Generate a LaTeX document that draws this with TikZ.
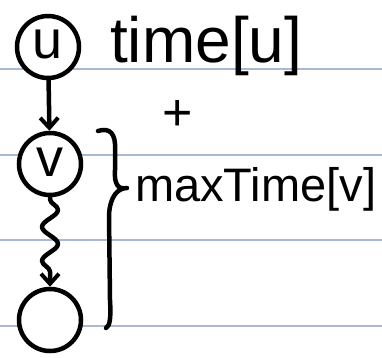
\documentclass[tikz,border=0pt]{standalone}
\usepackage{fontspec}
\setmainfont{Liberation Sans}
\usetikzlibrary{arrows.meta,decorations.pathmorphing}
\definecolor{ruled}{HTML}{A9B9D3}
\tikzset{
  rule/.style={draw=ruled, line width=1.6pt},
  vert/.style={circle, draw, line width=4.5pt, minimum size=62pt, inner sep=0pt, font=\fontsize{54}{54}\selectfont},
  ink/.style={line width=4.5pt, line cap=round, line join=round},
  tip/.style={-{Straight Barb[length=10pt, width=18pt, line width=4pt]}},
  hand/.style={inner sep=0pt, anchor=base west},
}
\begin{document}
\begin{tikzpicture}[x=1pt, y=-1pt]
\useasboundingbox (0,0) rectangle (382,357);
% ruled lines
\foreach \yy/\nm in {69/r1,155/r2,240/r3,326/r4}{
  \coordinate (\nm a) at (0,\yy);
  \coordinate (\nm b) at (382,\yy);
  \draw[rule] (\nm a) -- (\nm b);
}
% vertices
\node[vert, fill=white] (u) at (48,47) {\raisebox{6pt}{u}};
\node[vert, fill=white] (v) at (50,164) {\raisebox{4pt}{v}};
\node[vert, fill=white] (w) at (50,320) {};
% connectors
\draw[ink, tip] (u) -- (v);
\draw[ink, tip, decorate, decoration={snake, amplitude=8pt, segment length=34pt, pre length=2pt, post length=12pt}] (v) -- (w);
% brace
\coordinate (bt) at (98,131);
\coordinate (bm) at (127,188);
\coordinate (bb) at (106,328);
\draw[ink] (bt) .. controls (110,127) and (116,134) .. (115,150)
  -- (115,170) .. controls (114,184) and (118,190) .. (bm)
  (bm) .. controls (118,188) and (110,196) .. (109,215)
  -- (110,300) .. controls (111,318) and (110,326) .. (bb);
% texts
\node[hand, font=\fontsize{64}{64}\selectfont] (t1) at (110,62) {time[u]};
\node[font=\fontsize{52}{52}\selectfont, inner sep=0pt] (plus) at (178,115) {+};
\node[hand, font=\fontsize{47}{47}\selectfont] (t2) at (135,201) {maxTime[v]};
\end{tikzpicture}
\end{document}
